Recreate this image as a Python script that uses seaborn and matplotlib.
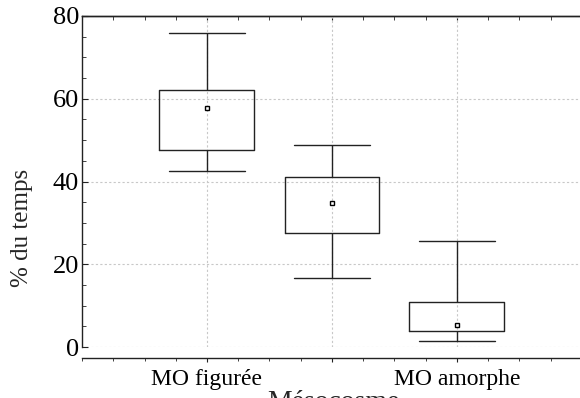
import numpy as np
import pandas as pd
import matplotlib
matplotlib.use("Agg")
import matplotlib.pyplot as plt
from matplotlib.ticker import MultipleLocator
import seaborn as sns

# ---- data ----
categories = ["MO figurée", "MO intermédiaire", "MO amorphe"]
tick_labels = ["MO figurée", "", "MO amorphe"]
whisker_min = [42.5, 16.6, 1.4]
q1_values = [47.7, 27.5, 3.9]
median_values = [57.8, 34.7, 5.3]
q3_values = [62.2, 41.0, 10.8]
whisker_max = [76.0, 48.8, 25.5]
y_ticks = [0, 20, 40, 60, 80]
x_title = "Mésocosme"
y_title = "% du temps"

# five-number rows so the box statistics equal the read values
rows = []
for c, a, b, m, d, e in zip(categories, whisker_min, q1_values, median_values, q3_values, whisker_max):
    for v in (a, b, m, d, e):
        rows.append({"cat": c, "val": v})
df = pd.DataFrame(rows)
med_df = pd.DataFrame({"cat": categories, "val": median_values})

sns.set_style("ticks")
plt.rcParams["font.family"] = ["Liberation Serif", "DejaVu Serif"]

fig = plt.figure(figsize=(5.8, 3.98), dpi=100)
ax = fig.add_axes([82 / 580, (398 - 347) / 398, 500 / 580, 331 / 398])

sns.boxplot(data=df, x="cat", y="val", order=categories, whis=(0, 100),
            width=0.76, fill=False, color="#222222", linewidth=1.0,
            showfliers=False, capwidths=0.61,
            medianprops={"visible": False}, ax=ax)
sns.pointplot(data=med_df, x="cat", y="val", order=categories, linestyle="none",
              markers="s", errorbar=None, color="black", markersize=3.5,
              markerfacecolor="white", markeredgewidth=1.0, ax=ax)

ax.set_xlim(-1, 3)
ax.set_ylim(0, 80)
ax.set_xticks(range(len(categories)))
ax.set_xticklabels(tick_labels)
ax.set_yticks(y_ticks)
ax.set_yticklabels([str(t) for t in y_ticks])
ax.xaxis.set_minor_locator(MultipleLocator(0.25))
ax.yaxis.set_minor_locator(MultipleLocator(5))

ax.grid(True, which="major", color="#c8c8c8", linestyle=(0, (2, 2)), linewidth=0.8)
ax.set_axisbelow(True)

ax.spines["right"].set_visible(False)
ax.spines["bottom"].set_position(("outward", 8))
for s in ("left", "top", "bottom"):
    ax.spines[s].set_color("#222222")
    ax.spines[s].set_linewidth(1.0)

ax.tick_params(axis="y", which="both", direction="in", left=True, right=False,
               color="#222222", labelcolor="black", labelsize=19, pad=2)
ax.tick_params(axis="y", which="major", length=4)
ax.tick_params(axis="y", which="minor", length=3)
ax.tick_params(axis="x", which="both", direction="out", bottom=True, top=False,
               color="#222222", labelcolor="black", labelsize=17)
ax.tick_params(axis="x", which="major", length=3, pad=5)
ax.tick_params(axis="x", which="minor", length=2)

# top ticks drawn inward on the top spine
sec = ax.secondary_xaxis("top")
sec.set_xticks(range(len(categories)))
sec.set_xticklabels([])
sec.xaxis.set_minor_locator(MultipleLocator(0.25))
sec.tick_params(which="both", direction="in", length=3, colors="#222222")
sec.spines["top"].set_linewidth(1.0)

ax.set_xlabel(x_title, fontsize=20)
ax.xaxis.set_label_coords(0.502, -0.129)
ax.xaxis.label.set_va("top")
ax.set_ylabel(y_title, fontsize=18)
ax.yaxis.set_label_coords(-0.12, 0.36)
ax.yaxis.label.set_va("center")

fig.savefig("out.png", dpi=100)
